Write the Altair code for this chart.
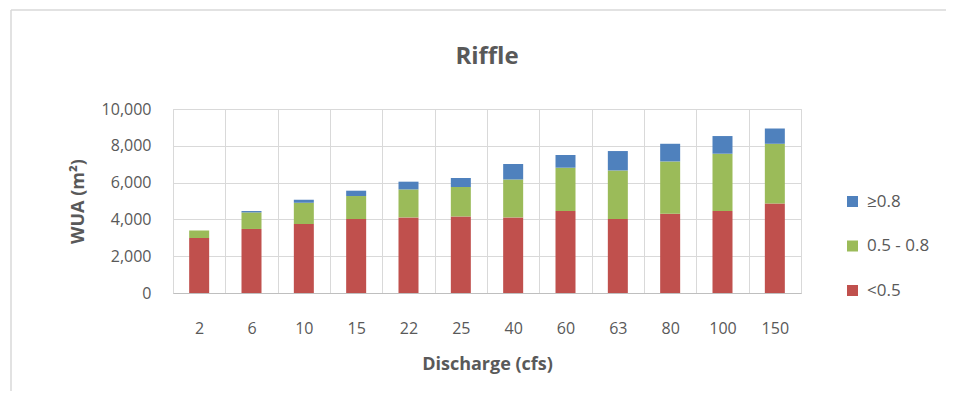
import altair as alt
import pandas as pd

categories = ["2", "6", "10", "15", "22", "25", "40", "60", "63", "80", "100", "150"]
low = [2990, 3480, 3750, 4020, 4110, 4160, 4110, 4460, 4020, 4310, 4460, 4870]
mid = [410, 900, 1160, 1250, 1520, 1600, 2060, 2350, 2640, 2840, 3110, 3240]
high = [0, 75, 160, 290, 420, 490, 840, 690, 1055, 960, 960, 830]

series_names = ["<0.5", "0.5 - 0.8", "≥0.8"]
legend_order = ["≥0.8", "0.5 - 0.8", "<0.5"]
legend_colors = ["#4F81BD", "#9BBB59", "#C0504D"]
title_text = "Riffle"

rows = []
for i, c in enumerate(categories):
    for k, (name, vals) in enumerate(zip(series_names, [low, mid, high])):
        rows.append({"Discharge": c, "Class": name, "WUA": vals[i], "order": k})
df = pd.DataFrame(rows)

TEXT = "#595959"
FONT = "Open Sans"

bars = alt.Chart(df).mark_bar(size=20).encode(
    x=alt.X(
        "Discharge:N",
        sort=categories,
        scale=alt.Scale(paddingInner=0, paddingOuter=0),
        axis=alt.Axis(
            title="Discharge (cfs)",
            labelAngle=0,
            tickBand="extent",
            grid=True,
            gridColor="#D9D9D9",
            ticks=False,
            domain=True,
            domainColor="#BFBFBF",
            labelPadding=27,
            titlePadding=19,
        ),
    ),
    y=alt.Y(
        "WUA:Q",
        stack="zero",
        scale=alt.Scale(domain=[0, 10000], nice=False),
        axis=alt.Axis(
            title="WUA (m²)",
            values=[0, 2000, 4000, 6000, 8000, 10000],
            format=",.0f",
            grid=True,
            gridColor="#D9D9D9",
            ticks=False,
            domain=False,
            labelPadding=22,
            titlePadding=14,
        ),
    ),
    color=alt.Color(
        "Class:N",
        scale=alt.Scale(domain=legend_order, range=legend_colors),
        legend=alt.Legend(
            title=None,
            orient="none",
            legendX=671,
            legendY=84,
            symbolType="square",
            symbolSize=121,
            symbolStrokeWidth=0,
            labelFontSize=17,
            labelColor=TEXT,
            labelFont=FONT,
            labelOffset=6,
            rowPadding=26.5,
            padding=0,
        ),
    ),
    order=alt.Order("order:Q", sort="ascending"),
)

frame_df = pd.DataFrame({"a": [0]})
frame_top = alt.Chart(frame_df).mark_rule(stroke="#D9D9D9", strokeWidth=1.5).encode(
    x=alt.value(-162), x2=alt.value(900), y=alt.value(-99)
)
frame_left = alt.Chart(frame_df).mark_rule(stroke="#D9D9D9", strokeWidth=1.5).encode(
    x=alt.value(-162), y=alt.value(-99), y2=alt.value(400)
)

title = alt.Chart(pd.DataFrame({"t": [title_text]})).mark_text(
    font=FONT, fontSize=24, fontWeight="bold", color=TEXT, align="center", baseline="middle"
).encode(
    text="t:N", x=alt.value(314), y=alt.value(-52)
)

chart = alt.layer(frame_top, frame_left, bars, title).properties(
    width=628,
    height=184,
    autosize=alt.AutoSizeParams(type="none"),
    padding={"left": 165, "top": 101, "right": 145, "bottom": 98},
).configure_view(
    stroke="#D9D9D9", strokeWidth=1
).configure_axis(
    labelFont=FONT,
    labelFontSize=16,
    labelColor=TEXT,
    titleFont=FONT,
    titleFontSize=18,
    titleFontWeight="bold",
    titleColor=TEXT,
)

chart.save("out.html", embed_options={"renderer": "svg", "actions": False})
